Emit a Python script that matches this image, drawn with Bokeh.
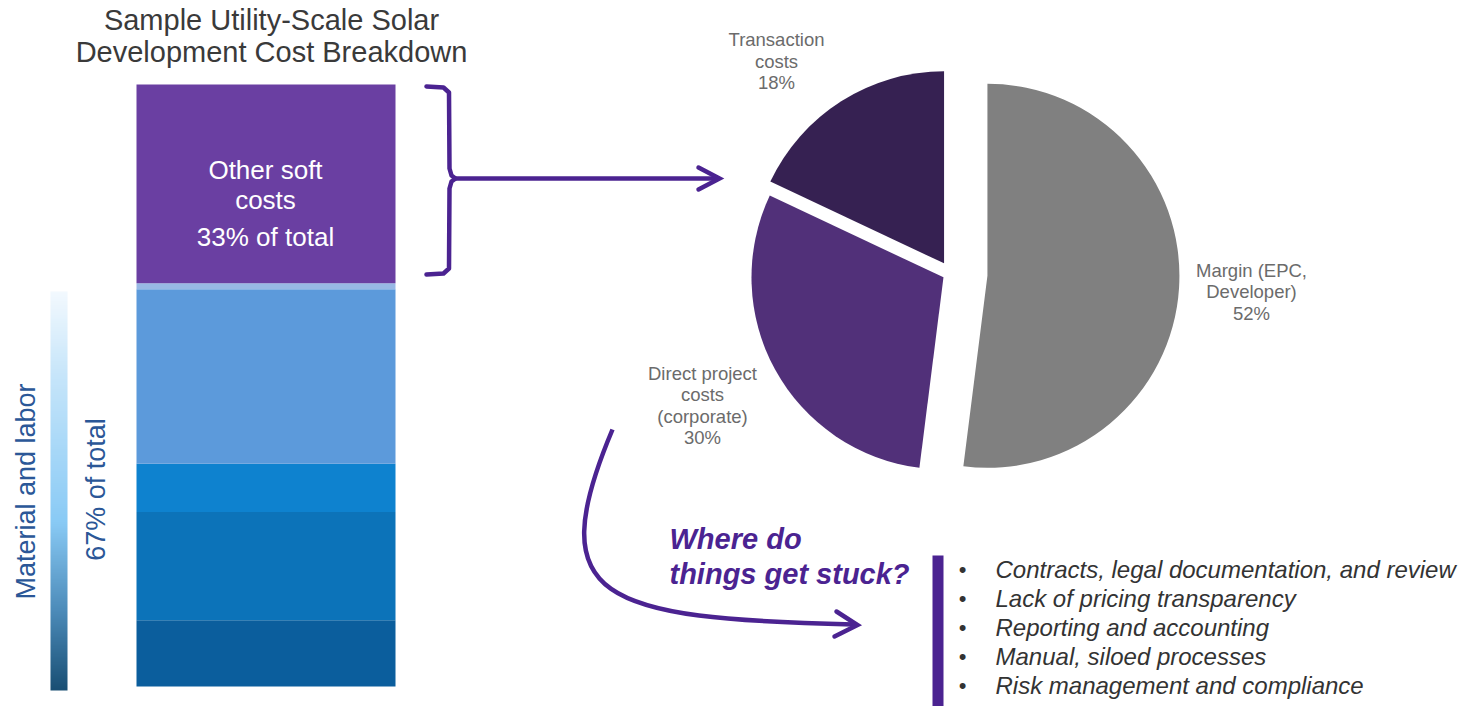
import numpy as np
from bokeh.plotting import figure
from bokeh.models import Range1d, ColumnDataSource
from bokeh.embed import file_html
from bokeh.resources import INLINE
from bokeh.core.properties import value

# ---------------- data ----------------
title_lines = ["Sample Utility-Scale Solar", "Development Cost Breakdown"]

bar_segments = ["Material & labor 1", "Material & labor 2", "Material & labor 3",
                "Material & labor 4", "Material & labor 5", "Other soft costs"]
bar_values = [11, 18, 8, 29, 1, 33]          # bottom -> top, % of total
bar_colors = ["#0B5E9D", "#0C73B9", "#0E82CF", "#5C9ADB", "#98B8E5", "#6A3FA2"]
bar_label_lines = ["Other soft", "costs", "33% of total"]
side_labels = ["Material and labor", "67% of total"]

pie_label_lines = [["Transaction", "costs"],
                   ["Direct project", "costs", "(corporate)"],
                   ["Margin (EPC,", "Developer)"]]
pie_values = [18, 30, 52]                     # counter-clockwise from 12 o'clock
pie_colors = ["#362152", "#513079", "#808080"]
pie_explode = [12, 8, 37]

question_lines = ["Where do", "things get stuck?"]
bullets = ["Contracts, legal documentation, and review",
           "Lack of pricing transparency",
           "Reporting and accounting",
           "Manual, siloed processes",
           "Risk management and compliance"]

# ---------------- layout helpers ----------------
W, H = 1466, 706
PURPLE = "#4B2391"
FONT = "Liberation Sans"


def Y(py):
    return H - py


p = figure(width=W, height=H, x_range=Range1d(0, W), y_range=Range1d(0, H),
           min_border=0, toolbar_location=None, output_backend="svg",
           background_fill_color="white", border_fill_color="white")
p.axis.visible = False
p.grid.visible = False
p.outline_line_color = None

# percentage scale for the stacked bar: 0% at px 686, 100% at px 84
bar_bottom_px, bar_top_px = 686, 84
ppu = (bar_bottom_px - bar_top_px) / 100.0
p.extra_y_ranges = {"pct": Range1d(start=-(H - bar_bottom_px) / ppu,
                                   end=bar_bottom_px / ppu)}

cum = np.cumsum([0] + bar_values)
bar_src = ColumnDataSource(dict(seg=bar_segments, bottom=cum[:-1], top=cum[1:],
                                color=bar_colors))
p.vbar(x=265.5, width=259, bottom="bottom", top="top", color="color",
       line_color=None, source=bar_src, y_range_name="pct")


def txt(xs, ys, texts, size, color, align="center", style="normal", angle=0.0,
        baseline="middle"):
    src = ColumnDataSource(dict(x=xs, y=[Y(v) for v in ys], t=texts))
    p.text(x="x", y="y", text="t", source=src, text_font=value(FONT),
           text_font_size=value(size), text_color=color, text_align=align,
           text_baseline=baseline, text_font_style=style, angle=angle)


# title
txt([271, 271], [19, 51], title_lines, "29px", "#3A3A3A")

# bar label (white)
txt([265, 265, 265], [169, 199, 236], bar_label_lines, "26px", "white")

# gradient strip (one image column)
n = 200
y0, y1 = 291, 690
stops_t = [0.0, 0.2, 0.58, 0.8, 1.0]
stops_c = [(243, 249, 254), (200, 230, 250), (137, 202, 245), (76, 139, 185), (24, 78, 115)]
ts = (np.arange(n) + 0.5) / n          # top -> bottom
img = np.zeros((n, 1), dtype=np.uint32)
view = img.view(dtype=np.uint8).reshape((n, 1, 4))
for i, t in enumerate(ts[::-1]):       # image row 0 is at the bottom
    for k in range(3):
        view[i, 0, k] = int(round(np.interp(t, stops_t, [c[k] for c in stops_c])))
    view[i, 0, 3] = 255
p.image_rgba(image=[img], x=50, y=Y(y1), dw=17, dh=y1 - y0)

# rotated side labels
txt([25, 95], [491, 489], side_labels, "27px", "#2B5797", angle=np.pi / 2)

# bracket + arrow
bx = [426, 443, 448.5, 449, 451, 455, 451, 449, 448.5, 443, 426]
by = [86, 87, 92, 168, 175, 178, 181, 188, 268, 273, 274]
p.line(x=bx, y=[Y(v) for v in by], line_color=PURPLE, line_width=4.5,
       line_join="round", line_cap="round")
p.line(x=[453, 718], y=[Y(178), Y(178)], line_color=PURPLE, line_width=4.5)
p.line(x=[698, 719, 698], y=[Y(167), Y(178), Y(189)], line_color=PURPLE,
       line_width=4.5, line_join="miter", line_cap="round")

# pie (exploded)
cx, cy, R = 950, 273, 192
fr = np.array(pie_values) / np.sum(pie_values)
start = np.pi / 2 + 2 * np.pi * np.concatenate([[0], np.cumsum(fr)[:-1]])
end = start + 2 * np.pi * fr
mid = (start + end) / 2
px = cx + np.array(pie_explode) * np.cos(mid)
py = Y(cy) + np.array(pie_explode) * np.sin(mid)
p.wedge(x=px, y=py, radius=R, start_angle=start, end_angle=end,
        color=pie_colors, line_color=None)

# pie labels
label_pos = [(776, [39, 61, 82]), (702, [373, 394, 416, 437]), (1251, [270, 291, 313])]
for (lx, lys), lines, v in zip(label_pos, pie_label_lines, pie_values):
    texts = lines + ["%d%%" % v]
    txt([lx] * len(texts), lys, texts, "18.5px", "#6B6B6B")

# curved arrow
p.bezier(x0=[612], y0=[Y(429)], x1=[853], y1=[Y(624)], cx0=[540], cy0=[Y(600)],
         cx1=[600], cy1=[Y(618)], line_color=PURPLE, line_width=4.5)
p.line(x=[836, 857, 834], y=[Y(611), Y(624.5), Y(636)], line_color=PURPLE,
       line_width=4.5, line_join="miter", line_cap="round")

# question
txt([669, 669], [538, 573], question_lines, "29px", PURPLE, align="left",
    style="bold italic")

# vertical bar
p.quad(left=[932], right=[943], top=[Y(555)], bottom=[Y(706)], color=PURPLE,
       line_color=None)

# bullets
bys = [569 + 29 * i for i in range(len(bullets))]
txt([962] * len(bullets), bys, ["\u2022"] * len(bullets), "22px", "#333333")
txt([995] * len(bullets), bys, bullets, "24px", "#333333", align="left",
    style="italic")

open("out.html", "w").write(file_html(p, INLINE))
